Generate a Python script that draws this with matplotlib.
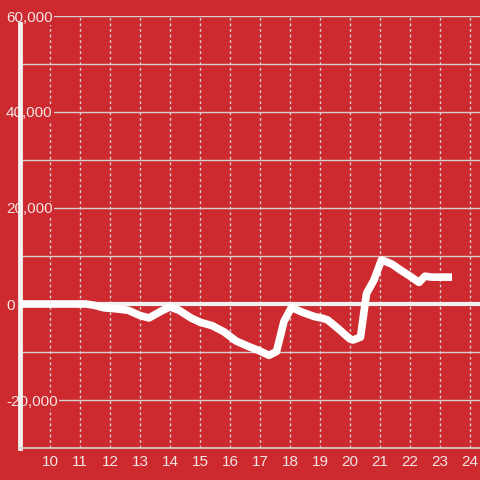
import numpy as np
import matplotlib.pyplot as plt

hours = [9.0, 11.2, 11.5, 11.8, 12.2, 12.6, 13.0, 13.3, 13.7, 14.0, 14.3, 14.7,
         15.0, 15.4, 15.8, 16.2, 16.6, 17.0, 17.3, 17.55, 17.8, 18.05, 18.4,
         18.8, 19.1, 19.25, 19.6, 20.0, 20.1, 20.35, 20.55, 20.8, 21.05, 21.4,
         21.7, 22.0, 22.3, 22.5, 22.7, 23.0, 23.4]
values = [0, 0, -300, -800, -1000, -1300, -2400, -2900, -1500, -600, -1300, -2900,
          -3800, -4500, -5800, -7700, -8800, -9800, -10700, -9900, -3600, -700, -1700,
          -2600, -3000, -3300, -5100, -7300, -7500, -6900, 2200, 5000, 9200, 8300,
          7000, 5800, 4500, 5800, 5600, 5600, 5600]

x_ticks = list(range(10, 25))
y_ticks = [-20000, 0, 20000, 40000, 60000]
y_labels = ['-20,000', '0', '20,000', '40,000', '60,000']

bg = '#cc2a2f'
txt = '#f4e4e4'
grid = '#d8d0d0'

plt.rcParams['font.family'] = ['Liberation Sans', 'DejaVu Sans']

fig = plt.figure(figsize=(4.8, 4.8), dpi=100, facecolor=bg)
ax = fig.add_axes([20 / 480, 32 / 480, 460 / 480, 432 / 480], facecolor=bg)

ax.set_xlim(9, 24.333)
ax.set_ylim(-30000, 60000)

# grid
for v in range(-20000, 60001, 10000):
    if v == 0:
        continue
    ax.axhline(v, color=grid, lw=1.0, zorder=1)
for t in x_ticks:
    ax.axvline(t, color=grid, lw=1.0, ls=(0, (2, 2)), zorder=1)
ax.axhline(0, color='#f6f0f0', lw=3, zorder=2)

ax.plot(hours, values, color='white', lw=5.5, solid_joinstyle='round',
        solid_capstyle='butt', zorder=3)

for s in ['top', 'right']:
    ax.spines[s].set_visible(False)
ax.spines['left'].set_color('#f4f0f0')
ax.spines['left'].set_linewidth(3.5)
ax.spines['left'].set_bounds(-30000, 58300)
ax.spines['bottom'].set_color(grid)
ax.spines['bottom'].set_linewidth(1.2)

ax.set_xticks(x_ticks)
ax.set_xticklabels([str(t) for t in x_ticks])
ax.set_yticks(y_ticks)
ax.set_yticklabels(y_labels)
ax.tick_params(axis='x', length=0, pad=5, labelsize=11, labelcolor=txt)
ax.tick_params(axis='y', length=0, pad=10, labelsize=11, labelcolor=txt)
for lab in ax.get_yticklabels():
    lab.set_horizontalalignment('left')
    lab.set_bbox(dict(facecolor=bg, edgecolor='none', pad=0.5))
    lab.set_zorder(5)

fig.savefig('out.png', dpi=100, facecolor=bg)
